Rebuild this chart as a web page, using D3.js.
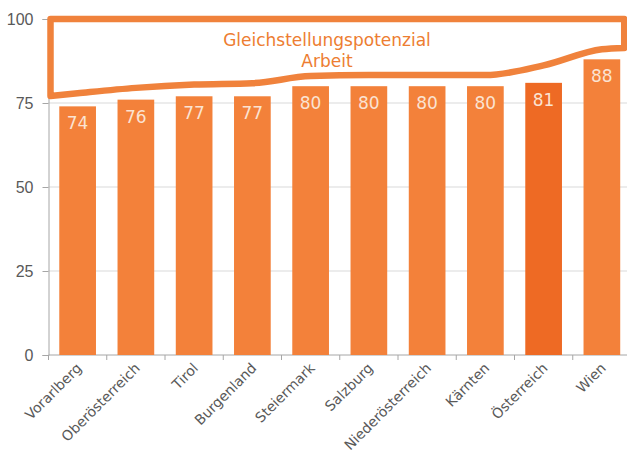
<!DOCTYPE html>
<html>
<head>
<meta charset="utf-8">
<script src="https://cdn.jsdelivr.net/npm/d3@7"></script>
<style>
  body { margin: 0; background: #fff; }
  text { font-family: "DejaVu Sans", sans-serif; }
</style>
</head>
<body>
<div id="chart"></div>
<script>
// Chart data
var regions = ["Vorarlberg", "Oberösterreich", "Tirol", "Burgenland", "Steiermark",
    "Salzburg", "Niederösterreich", "Kärnten", "Österreich", "Wien"];
var values = [74, 76, 77, 77, 80, 80, 80, 80, 81, 88];
// lower edge of the "Gleichstellungspotenzial" shape, read per category
var potenzialEdge = [77.9, 79.5, 80.5, 80.9, 83.0, 83.3, 83.3, 83.3, 86.2, 91.0];
var potenzialStart = 77.1;
var potenzialEnd = 91.4;
var potenzialTop = 100;
var yTicks = [0, 25, 50, 75, 100];
var highlight = "Österreich";

var svgWidth = 627;
var svgHeight = 459;

var svg = d3.select("#chart")
    .append("svg")
    .attr("width", svgWidth)
    .attr("height", svgHeight);

// Scales
var x = d3.scaleBand()
    .domain(regions)
    .range([48.5, 631])
    .paddingInner(0.37)
    .paddingOuter(0.185);

var y = d3.scaleLinear()
    .domain([0, 100])
    .range([355, 19]);

// Gridlines
svg.append("g")
    .selectAll("line")
    .data(yTicks.slice(1))
    .enter()
    .append("line")
    .attr("x1", x.range()[0])
    .attr("x2", svgWidth)
    .attr("y1", d => y(d))
    .attr("y2", d => y(d))
    .attr("stroke", "#d9d9d9")
    .attr("stroke-width", 1);

// Y axis
var leftAxis = d3.axisLeft(y).tickValues(yTicks).tickSize(6).tickPadding(9);
var yAxis = svg.append("g")
    .attr("transform", `translate(${x.range()[0]}, 0)`)
    .call(leftAxis);
yAxis.select(".domain").attr("stroke", "#a6a6a6");
yAxis.selectAll(".tick line").attr("stroke", "#a6a6a6");
yAxis.selectAll(".tick text")
    .attr("fill", "#595959")
    .style("font-family", "'Liberation Sans', Arial, sans-serif")
    .style("font-size", "16px");

// X axis line and ticks between categories
svg.append("line")
    .attr("x1", x.range()[0])
    .attr("x2", svgWidth)
    .attr("y1", y(0))
    .attr("y2", y(0))
    .attr("stroke", "#a6a6a6");

svg.append("g")
    .selectAll("line")
    .data(regions)
    .enter()
    .append("line")
    .attr("x1", (d, i) => x.range()[0] + i * x.step())
    .attr("x2", (d, i) => x.range()[0] + i * x.step())
    .attr("y1", y(0))
    .attr("y2", y(0) + 5)
    .attr("stroke", "#a6a6a6");

// Category labels
svg.append("g")
    .selectAll("text")
    .data(regions)
    .enter()
    .append("text")
    .attr("transform", d => `translate(${x(d) + x.bandwidth() / 2 + 5}, ${y(0) + 14}) rotate(-45)`)
    .attr("text-anchor", "end")
    .attr("fill", "#595959")
    .style("font-size", "14px")
    .text(d => d);

// Bars
svg.append("g")
    .selectAll("rect")
    .data(regions)
    .enter()
    .append("rect")
    .attr("x", d => x(d))
    .attr("y", (d, i) => y(values[i]))
    .attr("width", x.bandwidth())
    .attr("height", (d, i) => y(0) - y(values[i]))
    .attr("fill", d => d === highlight ? "#ee6a24" : "#f3813a");

// Bar value labels
svg.append("g")
    .selectAll("text")
    .data(regions)
    .enter()
    .append("text")
    .attr("x", d => x(d) + x.bandwidth() / 2)
    .attr("y", (d, i) => y(values[i]) + 23)
    .attr("text-anchor", "middle")
    .attr("fill", "#fbe3d2")
    .style("font-size", "17px")
    .text((d, i) => values[i]);

// Gleichstellungspotenzial shape
var leftX = x.range()[0] + 2;
var rightX = x(regions[regions.length - 1]) + x.bandwidth() + 4;
var edgePoints = [[leftX, y(potenzialStart)]]
    .concat(regions.map((d, i) => [x(d) + x.bandwidth() / 2, y(potenzialEdge[i])]))
    .concat([[rightX, y(potenzialEnd)]]);

var edgeLine = d3.line().curve(d3.curveMonotoneX);
var shapePath = edgeLine(edgePoints)
    + `L${rightX},${y(potenzialTop)}L${leftX},${y(potenzialTop)}Z`;

svg.append("path")
    .attr("d", shapePath)
    .attr("fill", "none")
    .attr("stroke", "#f0823c")
    .attr("stroke-width", 6.5)
    .attr("stroke-linejoin", "round");

var labelX = 327;
svg.append("text")
    .attr("x", labelX)
    .attr("y", 46)
    .attr("text-anchor", "middle")
    .attr("fill", "#ed7d31")
    .style("font-size", "17px")
    .text("Gleichstellungspotenzial");

svg.append("text")
    .attr("x", labelX)
    .attr("y", 67)
    .attr("text-anchor", "middle")
    .attr("fill", "#ed7d31")
    .style("font-size", "17px")
    .text("Arbeit");
</script>
</body>
</html>
